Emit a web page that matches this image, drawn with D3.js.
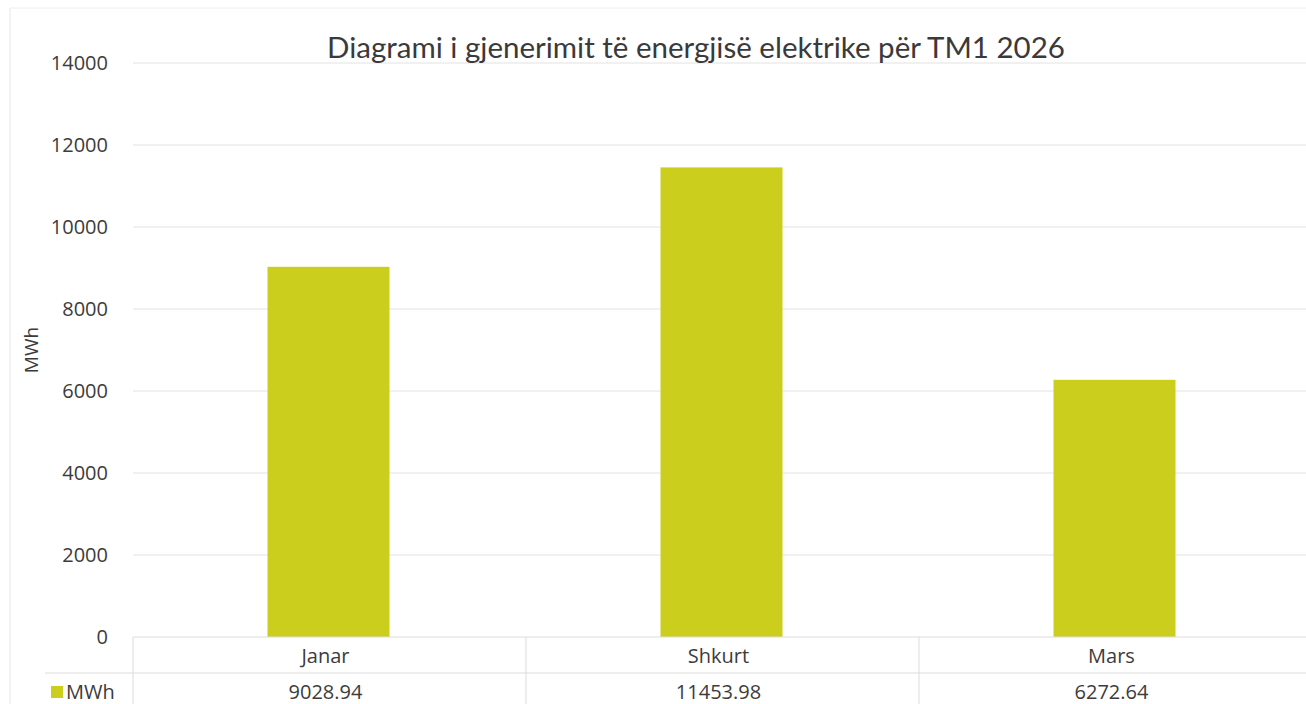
<!DOCTYPE html>
<html><head><meta charset="utf-8">
<script src="https://cdn.jsdelivr.net/npm/d3@7"></script>
<style>body{margin:0;background:#fff;}svg{display:block;}</style>
</head><body>
<svg id="c" width="1306" height="704"></svg>
<script>
const categories = ["Janar", "Shkurt", "Mars"];
const values = [9028.94, 11453.98, 6272.64];
const valueLabels = ["9028.94", "11453.98", "6272.64"];
const yTicks = [0, 2000, 4000, 6000, 8000, 10000, 12000, 14000];
const seriesName = "MWh";
const chartTitle = "Diagrami i gjenerimit të energjisë elektrike për TM1 2026";

(function () {
const svg = d3.select("#c");
const W = 1306, H = 704;
const mLeft = 133, mRight = 1312, mTop = 63, mBottom = 637;
const barColor = "#cbce1c";
const textColor = "#3c3c3c";
const font = "'Open Sans', 'Liberation Sans', sans-serif";
const fs = 20;

// faint chart frame
svg.append("line").attr("x1", 10).attr("x2", 10).attr("y1", 8).attr("y2", H)
  .attr("stroke", "#e6e6e6").attr("stroke-width", 1);
svg.append("line").attr("x1", 10).attr("x2", W).attr("y1", 8).attr("y2", 8)
  .attr("stroke", "#eeeeee").attr("stroke-width", 1);

const x = d3.scaleBand().domain(categories).range([mLeft, mRight]).paddingInner(0).paddingOuter(0);
const y = d3.scaleLinear().domain([0, 14000]).range([mBottom, mTop]);

// gridlines
svg.append("g").selectAll("line").data(yTicks.filter(d => d > 0)).join("line")
  .attr("x1", mLeft).attr("x2", W).attr("y1", d => y(d)).attr("y2", d => y(d))
  .attr("stroke", "#e2e2e2").attr("stroke-width", 1);

// y axis labels
const yAxis = d3.axisLeft(y).tickValues(yTicks).tickSize(0).tickPadding(0).tickFormat(d3.format("d"));
const gy = svg.append("g").attr("transform", `translate(108,0)`).call(yAxis);
gy.select(".domain").remove();
gy.selectAll("text").attr("font-family", font).attr("font-size", fs).attr("fill", textColor);

// y title
svg.append("text").attr("transform", "translate(38,350) rotate(-90)")
  .attr("text-anchor", "middle").attr("font-family", font).attr("font-size", 19)
  .attr("fill", textColor).text(seriesName);

// bars
const barW = 122;
svg.append("g").selectAll("rect").data(values).join("rect")
  .attr("x", (d, i) => x(categories[i]) + x.bandwidth() / 2 - barW / 2 - 1)
  .attr("width", barW)
  .attr("y", d => y(d)).attr("height", d => y(0) - y(d))
  .attr("fill", barColor);

// title
svg.append("text").attr("x", 696).attr("y", 58).attr("text-anchor", "middle")
  .attr("font-family", "Lato, 'Open Sans', sans-serif").attr("font-size", 29.5)
  .attr("fill", "#3a3a3a").text(chartTitle);

// data table
const tableColor = "#dcdcdc";
const rowMid = 673;
svg.append("line").attr("x1", mLeft).attr("x2", W).attr("y1", mBottom).attr("y2", mBottom)
  .attr("stroke", tableColor);
svg.append("line").attr("x1", 45).attr("x2", W).attr("y1", rowMid).attr("y2", rowMid)
  .attr("stroke", tableColor);
svg.append("g").selectAll("line").data(categories).join("line")
  .attr("x1", d => x(d)).attr("x2", d => x(d)).attr("y1", mBottom).attr("y2", H)
  .attr("stroke", tableColor);

svg.append("g").selectAll("text").data(categories).join("text")
  .attr("x", d => x(d) + x.bandwidth() / 2 - 4).attr("y", 663)
  .attr("text-anchor", "middle").attr("font-family", font).attr("font-size", fs)
  .attr("fill", textColor).text(d => d);
svg.append("g").selectAll("text").data(valueLabels).join("text")
  .attr("x", (d, i) => x(categories[i]) + x.bandwidth() / 2 - 4).attr("y", 699)
  .attr("text-anchor", "middle").attr("font-family", font).attr("font-size", fs)
  .attr("fill", textColor).text(d => d);

// legend key
svg.append("rect").attr("x", 51).attr("y", 686).attr("width", 12).attr("height", 12)
  .attr("fill", barColor);
svg.append("text").attr("x", 66).attr("y", 699).attr("font-family", font)
  .attr("font-size", fs).attr("fill", textColor).text(seriesName);
})();
</script>
</body></html>
